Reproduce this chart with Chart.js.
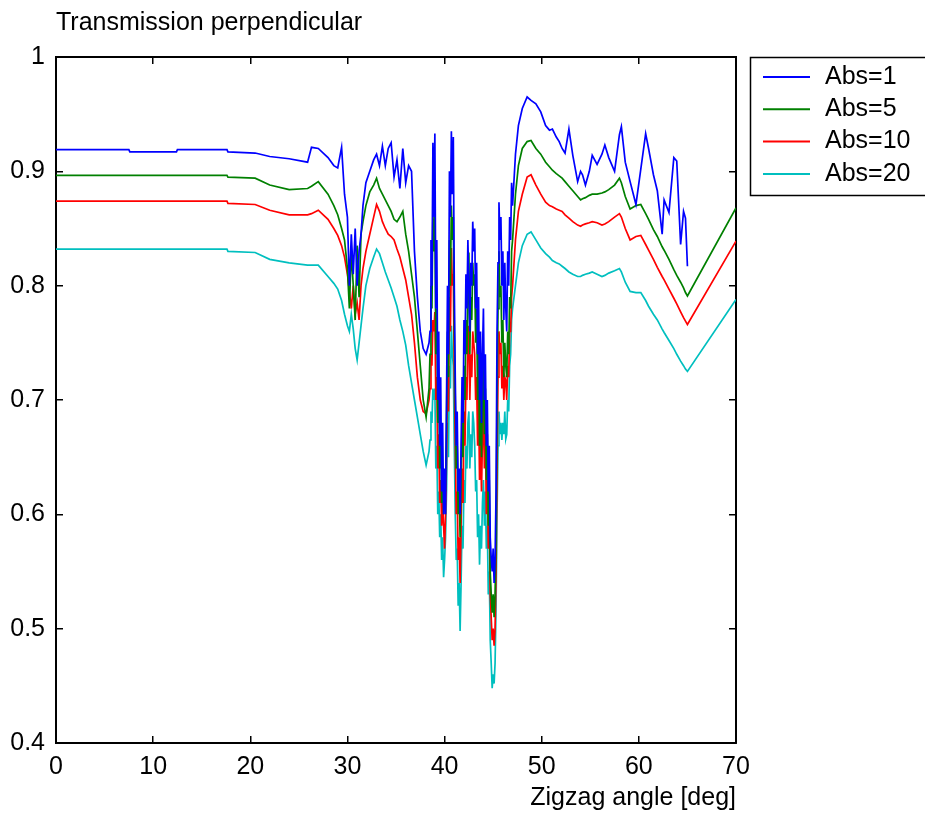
<!DOCTYPE html>
<html>
<head>
<meta charset="utf-8">
<script src="https://cdn.jsdelivr.net/npm/chart.js@4.4.1/dist/chart.umd.min.js"></script>
<style>
  html, body { margin: 0; padding: 0; background: #fff; }
</style>
</head>
<body>
<canvas id="myChart" width="925" height="816"></canvas>
<script>
// Zigzag angle [deg], shared by all series
const angles = [
    0, 7.5, 7.6, 12.4, 12.5, 17.6, 17.7, 20.5, 22, 24,
    25.9, 26.3, 27, 28, 28.6, 29, 29.4, 29.7, 30, 30.2,
    30.4, 30.6, 30.8, 31, 31.2, 31.4, 31.6, 31.9, 32.3, 32.7,
    33, 33.3, 33.6, 33.9, 34.2, 34.5, 34.8, 35.1, 35.4, 35.7,
    36, 36.3, 36.6, 36.9, 37.2, 37.5, 37.8, 38.1, 38.4, 38.5,
    38.6, 38.7, 38.8, 38.9, 39, 39.1, 39.2, 39.3, 39.4, 39.5,
    39.6, 39.7, 39.8, 39.9, 40, 40.1, 40.2, 40.3, 40.4, 40.5,
    40.6, 40.7, 40.8, 40.9, 41, 41.1, 41.2, 41.3, 41.4, 41.5,
    41.6, 41.7, 41.8, 41.9, 42, 42.1, 42.2, 42.3, 42.4, 42.5,
    42.6, 42.7, 42.8, 42.9, 43, 43.1, 43.2, 43.3, 43.4, 43.5,
    43.6, 43.7, 43.8, 43.9, 44, 44.1, 44.2, 44.3, 44.4, 44.5,
    44.6, 44.7, 44.8, 44.9, 45, 45.1, 45.2, 45.3, 45.4, 45.5,
    45.6, 45.7, 45.8, 45.9, 46, 46.1, 46.2, 46.3, 46.4, 46.5,
    46.6, 46.7, 46.8, 46.9, 47, 47.3, 47.6, 48, 48.5, 48.9,
    49.4, 49.9, 50.4, 50.8, 51.1, 51.5, 51.8, 52.1, 52.4, 52.8,
    53.2, 53.7, 54, 54.2, 54.5, 54.9, 55.2, 55.7, 56.2, 56.5,
    56.9, 57.5, 58, 58.2, 58.6, 59.1, 59.7, 60.2, 60.7, 61,
    61.5, 61.9, 62.4, 62.6, 63.1, 63.6, 63.9, 64.3, 64.6, 64.8,
    65, 70
];

const abs1 = [
    .919, .919, .917, .917, .919, .919, .917, .916, .913, .911,
    .908, .921, .920, .912, .905, .903, .921, .88, .86, .80,
    .845, .81, .85, .80, .83, .845, .87, .89, .90, .91,
    .915, .905, .922, .905, .92, .925, .895, .91, .885, .92,
    .89, .905, .90, .83, .79, .76, .745, .74, .75, .76,
    .84, .80, .925, .86, .933, .78, .84, .70, .76, .66,
    .72, .62, .68, .60, .64, .60, .70, .80, .74, .90,
    .86, .935, .88, .93, .80, .72, .66, .69, .62, .64,
    .60, .66, .72, .68, .77, .74, .81, .78, .84, .80,
    .76, .82, .80, .856, .83, .85, .78, .82, .74, .79,
    .70, .76, .68, .74, .78, .70, .74, .66, .70, .62,
    .66, .58, .562, .55, .57, .54, .56, .62, .76, .82,
    .873, .84, .86, .80, .83, .77, .82, .78, .76, .83,
    .80, .86, .84, .89, .87, .915, .94, .955, .965, .962,
    .959, .952, .94, .936, .937, .930, .926, .920, .916, .937,
    .914, .891, .90, .897, .888, .90, .914, .906, .915, .923,
    .912, .90, .932, .939, .908, .891, .871, .902, .933, .92,
    .897, .883, .845, .875, .864, .912, .909, .836, .865, .859,
    .817, null
];

const abs5 = [
    .8965, .8965, .8965, .8965, .8965, .8965, .895, .894, .888, .884,
    .885, .887, .891, .880, .870, .862, .850, .84, .815, .78,
    .83, .80, .77, .835, .79, .845, .856, .87, .882, .888,
    .894, .885, .88, .875, .87, .865, .858, .856, .86, .865,
    .845, .83, .81, .79, .76, .73, .70, .685, .71, .74,
    .80, .78, .864, .83, .86, .74, .78, .68, .72, .64,
    .68, .61, .64, .60, .63, .62, .68, .76, .72, .84,
    .80, .87, .84, .86, .76, .70, .64, .66, .60, .62,
    .58, .63, .68, .65, .73, .70, .77, .74, .80, .829,
    .74, .79, .77, .82, .80, .81, .75, .78, .70, .75,
    .66, .72, .65, .70, .74, .67, .71, .63, .67, .59,
    .63, .55, .53, .514, .53, .51, .53, .58, .70, .78,
    .83, .79, .80, .75, .77, .72, .75, .73, .72, .76,
    .74, .79, .78, .83, .84, .88, .905, .92, .926, .927,
    .92, .915, .908, .904, .901, .898, .896, .894, .891, .887,
    .883, .878, .875, .876, .877, .879, .880, .880, .881, .882,
    .884, .888, .894, .890, .878, .867, .870, .871, .863, .858,
    .849, .843, .834, .831, .823, .814, .809, .803, .798, .794,
    .791, .868
];

const abs10 = [
    .874, .874, .874, .874, .874, .874, .872, .871, .866, .862,
    .862, .863, .866, .858, .850, .844, .835, .825, .81, .795,
    .78, .80, .775, .785, .77, .80, .815, .83, .845, .86,
    .871, .865, .856, .85, .845, .843, .84, .832, .825, .815,
    .805, .79, .775, .75, .72, .70, .69, .688, .70, .71,
    .74, .73, .77, .76, .777, .70, .72, .64, .67, .61,
    .63, .59, .61, .59, .57, .60, .65, .72, .69, .79,
    .76, .833, .80, .81, .72, .66, .60, .62, .56, .58,
    .54, .59, .64, .61, .69, .66, .72, .70, .75, .765,
    .70, .74, .72, .76, .75, .74, .70, .72, .66, .70,
    .63, .67, .62, .665, .70, .64, .68, .60, .64, .57,
    .60, .53, .51, .49, .50, .485, .50, .55, .64, .72,
    .76, .74, .75, .71, .73, .70, .72, .717, .70, .73,
    .72, .76, .76, .79, .80, .84, .865, .88, .895, .897,
    .888, .880, .873, .870, .869, .867, .866, .865, .862, .859,
    .856, .853, .852, .853, .854, .855, .856, .855, .853, .854,
    .856, .860, .863, .860, .850, .840, .843, .844, .836, .831,
    .823, .816, .808, .805, .797, .789, .784, .777, .772, .769,
    .766, .839
];

const abs20 = [
    .832, .832, .832, .832, .832, .832, .830, .829, .823, .820,
    .818, .818, .818, .808, .802, .797, .787, .775, .765, .76,
    .775, .762, .745, .735, .75, .765, .78, .80, .815, .825,
    .832, .828, .82, .812, .805, .798, .79, .782, .77, .76,
    .748, .73, .715, .70, .685, .67, .655, .643, .655, .665,
    .69, .68, .71, .70, .71, .64, .66, .60, .62, .58,
    .60, .56, .58, .545, .56, .58, .62, .68, .65, .73,
    .71, .765, .74, .73, .66, .60, .56, .57, .52, .54,
    .498, .54, .59, .57, .63, .61, .66, .64, .68, .69,
    .64, .67, .65, .69, .68, .66, .62, .63, .58, .60,
    .556, .59, .57, .61, .63, .59, .62, .57, .59, .53,
    .55, .49, .47, .448, .46, .452, .47, .52, .60, .66,
    .69, .67, .68, .665, .68, .67, .69, .666, .67, .70,
    .69, .73, .74, .77, .78, .80, .82, .835, .845, .847,
    .84, .833, .828, .825, .822, .820, .819, .817, .815, .812,
    .810, .808, .808, .809, .810, .811, .812, .810, .808, .809,
    .811, .813, .815, .812, .803, .795, .794, .794, .787, .782,
    .775, .770, .762, .759, .752, .745, .740, .734, .730, .727,
    .725, .788
];

const seriesLabels = ['Abs=1', 'Abs=5', 'Abs=10', 'Abs=20'];
const seriesColors = ['#0000ff', '#008000', '#ff0000', '#00bfbf'];
const xTicks = [0, 10, 20, 30, 40, 50, 60, 70];
const yTicks = [0.4, 0.5, 0.6, 0.7, 0.8, 0.9, 1];

const toPoints = values => {
    const pts = [];
    angles.forEach((a, i) => {
        if (values[i] !== null) pts.push({ x: a, y: values[i] });
    });
    return pts;
};

Chart.defaults.font.family = "'Liberation Sans', Arial, sans-serif";
Chart.defaults.font.size = 25;
Chart.defaults.color = '#000';

// legend in a box, drawn to the right of the axes like the matlab one
const boxLegend = {
    id: 'boxLegend',
    afterDraw(chart) {
        const ctx = chart.ctx;
        const left = chart.chartArea.right + 14;
        const top = chart.chartArea.top;
        ctx.save();
        ctx.strokeStyle = '#000';
        ctx.lineWidth = 1.5;
        ctx.strokeRect(left + 0.5, top + 0.5, 200, 138);
        ctx.font = "25px 'Liberation Sans', Arial, sans-serif";
        ctx.textBaseline = 'middle';
        chart.data.datasets.forEach((ds, i) => {
            const y = top + 20 + i * 32.3;
            ctx.strokeStyle = ds.borderColor;
            ctx.lineWidth = 2;
            ctx.beginPath();
            ctx.moveTo(left + 13, y);
            ctx.lineTo(left + 60, y);
            ctx.stroke();
            ctx.fillStyle = '#000';
            ctx.fillText(ds.label, left + 75, y);
        });
        ctx.restore();
    }
};

const axisGrid = { drawOnChartArea: false, tickLength: -7, color: '#000', lineWidth: 1.5 };
const axisBorder = { color: '#000', width: 2 };
const setXTicks = s => { s.ticks = xTicks.map(v => ({ value: v })); };
const setYTicks = s => { s.ticks = yTicks.map(v => ({ value: v })); };

const ctx = document.getElementById('myChart').getContext('2d');
const myChart = new Chart(ctx, {
    type: 'line',
    data: {
        datasets: [abs1, abs5, abs10, abs20].map((vals, i) => ({
            label: seriesLabels[i],
            data: toPoints(vals),
            borderColor: seriesColors[i],
            backgroundColor: seriesColors[i],
            borderWidth: 1.7,
            pointRadius: 0,
            tension: 0,
            fill: false
        }))
    },
    options: {
        responsive: false,
        animation: false,
        devicePixelRatio: 1,
        layout: { padding: { left: 0, right: 189, top: 0, bottom: 0 } },
        scales: {
            x: {
                type: 'linear',
                position: 'bottom',
                min: 0,
                max: 70,
                afterBuildTicks: setXTicks,
                afterFit: s => { s.height = 73; },
                grid: axisGrid,
                border: axisBorder,
                ticks: { padding: 16, maxRotation: 0, autoSkip: false },
                title: {
                    display: true,
                    text: 'Zigzag angle [deg]',
                    align: 'end',
                    padding: { top: 0, bottom: 3 }
                }
            },
            x2: {
                type: 'linear',
                position: 'top',
                min: 0,
                max: 70,
                afterBuildTicks: setXTicks,
                afterFit: s => { s.height = 0; },
                grid: axisGrid,
                border: axisBorder,
                ticks: { display: false }
            },
            y: {
                type: 'linear',
                position: 'left',
                min: 0.4,
                max: 1,
                afterBuildTicks: setYTicks,
                afterFit: s => { s.width = 56; },
                grid: axisGrid,
                border: axisBorder,
                ticks: {
                    padding: 18,
                    // matlab style: 1 instead of 1.0
                    callback: v => String(Number(v.toFixed(1)))
                }
            },
            y2: {
                type: 'linear',
                position: 'right',
                min: 0.4,
                max: 1,
                afterBuildTicks: setYTicks,
                afterFit: s => { s.width = 0; },
                grid: axisGrid,
                border: axisBorder,
                ticks: { display: false }
            }
        },
        plugins: {
            legend: { display: false },
            tooltip: { enabled: false },
            title: {
                display: true,
                text: 'Transmission perpendicular',
                align: 'start',
                fullSize: false,
                font: { size: 25, weight: 'normal' },
                padding: { top: 8, bottom: 19 }
            }
        }
    },
    plugins: [boxLegend]
});
</script>
</body>
</html>
